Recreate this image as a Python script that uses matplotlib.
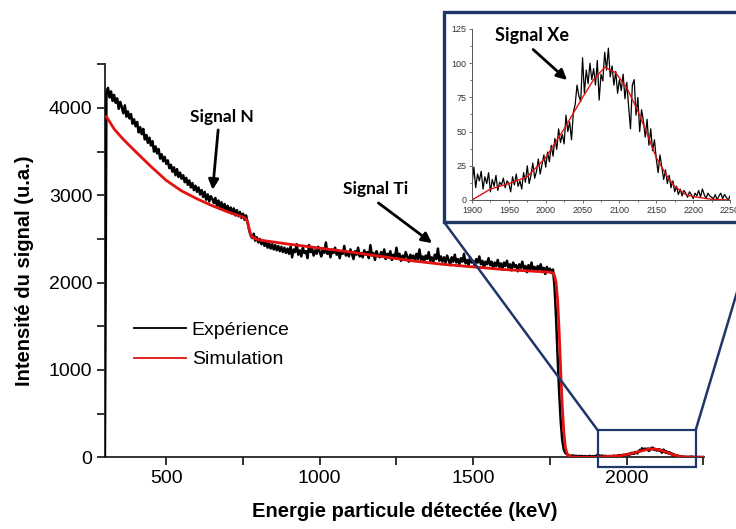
import numpy as np
import matplotlib
matplotlib.use("Agg")
import matplotlib.pyplot as plt
from matplotlib.patches import Rectangle, ConnectionPatch
from matplotlib.lines import Line2D

# ---------------- data ----------------
# Experimental spectrum, 5 keV channels from 300 to 1895 keV
exp_main_start, exp_main_step = 300, 5
exp_main = [0,
    4180, 4230, 4120, 4190, 4080, 4150, 4060, 4110, 3990, 4070,
    4010, 3940, 4030, 3900, 3960, 3880, 3930, 3820, 3870, 3790,
    3840, 3720, 3780, 3700, 3760, 3640, 3690, 3600, 3660, 3570,
    3620, 3500, 3560, 3480, 3530, 3420, 3470, 3390, 3440, 3360,
    3400, 3310, 3350, 3270, 3320, 3230, 3300, 3210, 3260, 3190,
    3230, 3150, 3200, 3120, 3170, 3090, 3140, 3060, 3110, 3040,
    3090, 3010, 3060, 2980, 3040, 2950, 3010, 2930, 2990, 2960,
    2910, 2970, 2880, 2940, 2860, 2920, 2840, 2900, 2830, 2880,
    2810, 2860, 2790, 2850, 2770, 2830, 2760, 2810, 2740, 2790,
    2720, 2770, 2690, 2600, 2540, 2510, 2560, 2480, 2520, 2460,
    2500, 2440, 2480, 2420, 2470, 2400, 2450, 2390, 2440, 2380,
    2430, 2370, 2420, 2360, 2410, 2350, 2400, 2340, 2390, 2330,
    2410, 2290, 2380, 2350, 2440, 2320, 2370, 2300, 2400, 2340,
    2360, 2280, 2430, 2350, 2390, 2310, 2370, 2330, 2410, 2350,
    2300, 2390, 2340, 2460, 2330, 2370, 2290, 2380, 2340, 2400,
    2320, 2370, 2280, 2360, 2330, 2420, 2310, 2350, 2300, 2380,
    2330, 2270, 2360, 2320, 2400, 2300, 2340, 2290, 2370, 2320,
    2350, 2280, 2430, 2310, 2340, 2260, 2360, 2310, 2290, 2350,
    2300, 2380, 2270, 2330, 2290, 2360, 2260, 2320, 2290, 2400,
    2280, 2330, 2250, 2310, 2270, 2350, 2300, 2240, 2320, 2280,
    2310, 2250, 2330, 2270, 2380, 2260, 2300, 2240, 2310, 2270,
    2350, 2250, 2290, 2230, 2320, 2270, 2390, 2250, 2300, 2240,
    2290, 2230, 2310, 2260, 2200, 2290, 2240, 2320, 2230, 2270,
    2210, 2280, 2240, 2330, 2220, 2260, 2200, 2290, 2230, 2250,
    2190, 2270, 2230, 2300, 2210, 2250, 2170, 2240, 2210, 2280,
    2200, 2240, 2160, 2230, 2190, 2260, 2180, 2220, 2150, 2230,
    2190, 2250, 2170, 2210, 2140, 2230, 2180, 2200, 2130, 2210,
    2170, 2240, 2160, 2190, 2120, 2200, 2150, 2230, 2140, 2180,
    2130, 2190, 2150, 2210, 2120, 2170, 2100, 2180, 2140, 2160,
    2110, 2150, 1950, 1600, 1150, 750, 420, 200, 90, 50,
    35, 25, 20, 15, 22, 12, 18, 10, 16, 12,
    15, 10, 14, 8, 12, 16, 9, 13, 11]

# Experimental spectrum, 2.5 keV channels from 1900 to 2250 keV (Xe peak)
exp_xe_start, exp_xe_step = 1900, 2.5
exp_xe = [
    12, 24, 9, 19, 14, 21, 8, 17, 12, 20,
    6, 15, 10, 18, 7, 13, 11, 16, 9, 14,
    12, 6, 17, 11, 19, 10, 14, 8, 20, 13,
    25, 12, 18, 27, 16, 21, 30, 19, 26, 33,
    24, 35, 28, 40, 32, 45, 37, 52, 42, 48,
    41, 62, 50, 57, 44, 64, 70, 84, 76, 72,
    104, 78, 95, 85, 100, 88, 96, 84, 102, 73,
    92, 87, 108, 95, 111, 90, 98, 84, 94, 78,
    88, 80, 92, 74, 86, 68, 52, 84, 88, 62,
    75, 50, 66, 58, 46, 59, 40, 52, 36, 44,
    30, 20, 33, 24, 15, 22, 12, 18, 9, 14,
    6, 10, 4, 8, 3, 7, 5, 2, 6, 4,
    1, 5, 3, 7, 2, 8, 4, 1, 5, 3,
    2, 1, 4, 0, 3, 5, 1, 4, 2, 0,
    3]

# Simulation
sim_energy = [305, 330, 360, 400, 450, 500, 550, 600, 650, 700, 750, 760,
              765, 770, 775, 780, 800, 900, 1000, 1100, 1200, 1300, 1400,
              1500, 1600, 1700, 1750, 1760, 1765, 1770, 1775, 1780, 1785,
              1790, 1795, 1800, 1805, 1810, 1820, 1850, 1900, 1925, 1950,
              1975, 2000, 2025, 2050, 2065, 2080, 2095, 2110, 2125, 2140,
              2150, 2165, 2175, 2190, 2200, 2225, 2250]
sim_signal = [3900, 3760, 3640, 3500, 3330, 3170, 3050, 2960, 2880, 2810, 2750, 2730,
              2690, 2620, 2550, 2520, 2490, 2440, 2395, 2350, 2300, 2250, 2210,
              2180, 2150, 2130, 2120, 2110, 2080, 2000, 1800, 1450, 1000,
              600, 300, 120, 50, 20, 5, 0, 0, 8, 12,
              17, 31, 52, 75, 88, 97, 93, 82, 65, 45,
              31, 17, 10, 4, 2.5, 0.5, 0]

legend_labels = ["Expérience", "Simulation"]
x_ticks = [500, 1000, 1500, 2000]
y_ticks = [0, 1000, 2000, 3000, 4000]
inset_x_ticks = [1900, 1950, 2000, 2050, 2100, 2150, 2200, 2250]
inset_y_ticks = [0, 25, 50, 75, 100, 125]
zoom_x = (1905, 2225)
zoom_y = (-108, 313)

# ---------------- figure ----------------
navy = "#1f3768"
red = "#e3110f"
W, H = 736, 529
fig = plt.figure(figsize=(W / 100, H / 100), dpi=100)
plt.rcParams["font.family"] = ["Liberation Sans", "DejaVu Sans"]

ax = fig.add_axes([104.9 / W, (H - 457.3) / H, (704 - 104.9) / W, (457.3 - 64.3) / H])

e_main = exp_main_start + exp_main_step * np.arange(len(exp_main))
e_xe = exp_xe_start + exp_xe_step * np.arange(len(exp_xe))
e_all = np.concatenate([e_main, e_xe])
v_all = np.concatenate([exp_main, exp_xe])

ax.plot(e_all, v_all, color="black", lw=1.8, zorder=3)
ax.plot(sim_energy, sim_signal, color=red, lw=2.0, zorder=4)

ax.set_xlim(300, 2252)
ax.set_ylim(0, 4500)
ax.set_xticks(x_ticks)
ax.set_xticks([750, 1250, 1750, 2250], minor=True)
ax.set_yticks(y_ticks)
ax.set_yticks([500, 1500, 2500, 3500, 4500], minor=True)
for s in ["top", "right"]:
    ax.spines[s].set_visible(False)
for s in ["left", "bottom"]:
    ax.spines[s].set_linewidth(1.3)
    ax.spines[s].set_color("#222222")
ax.tick_params(which="both", direction="out", length=6, width=1.3, color="#222222",
               labelsize=14, pad=3)
ax.tick_params(which="minor", length=5.5)

ax.set_xlabel("Energie particule détectée (keV)", fontsize=14.5, fontweight="bold")
ax.set_ylabel("Intensité du signal (u.a.)", fontsize=14.5, fontweight="bold")
ax.xaxis.set_label_coords(0.5, -0.115)
ax.yaxis.set_label_coords(-0.118, 0.475)

handles = [Line2D([], [], color="black", lw=1.3), Line2D([], [], color=red, lw=1.3)]
leg = ax.legend(handles, legend_labels, loc="upper left", bbox_to_anchor=(0.02, 0.39),
                frameon=False, fontsize=14, handlelength=2.65, handletextpad=0.3,
                labelspacing=0.6)

# annotations
ann_font = dict(family=["Lato", "DejaVu Sans"], fontweight="bold", fontsize=12.5)
arrow = dict(arrowstyle="-|>,head_length=0.6,head_width=0.3", color="black", lw=2.0,
             shrinkA=0, shrinkB=0)
ax.text(681, 3900, "Signal N", ha="center", va="center", **ann_font, zorder=6)
ax.annotate("", xy=(651, 3062), xytext=(669, 3749), arrowprops=arrow, zorder=6)
ax.text(1183, 3073, "Signal Ti", ha="center", va="center", **ann_font, zorder=6)
ax.annotate("", xy=(1366, 2452), xytext=(1191, 2913), arrowprops=arrow, zorder=6)

# zoom rectangle
ax.add_patch(Rectangle((zoom_x[0], zoom_y[0]), zoom_x[1] - zoom_x[0], zoom_y[1] - zoom_y[0],
                       fill=False, ec=navy, lw=1.6, clip_on=False, zorder=5))

# inset frame
fx0, fy0 = 444 / W, (H - 222) / H
fx1, fy1 = 758 / W, (H - 12) / H
frame = Rectangle((fx0, fy0), fx1 - fx0, fy1 - fy0, transform=fig.transFigure,
                  facecolor="white", edgecolor=navy, lw=2.4, zorder=10)
fig.add_artist(frame)
for xa, xb in [(zoom_x[0], fx0), (zoom_x[1], fx1)]:
    cp = ConnectionPatch(xyA=(xa, zoom_y[1]), coordsA=ax.transData,
                         xyB=(xb, fy0), coordsB=fig.transFigure,
                         color=navy, lw=1.8, zorder=9)
    fig.add_artist(cp)

ins = fig.add_axes([472 / W, (H - 200) / H, (730 - 472) / W, (200 - 29) / H], zorder=11)
ins.patch.set_alpha(0)
ins.plot(e_xe, exp_xe, color="black", lw=0.9)
ins.plot(sim_energy, sim_signal, color=red, lw=1.0)
ins.set_xlim(1900, 2250)
ins.set_ylim(0, 125)
ins.set_xticks(inset_x_ticks)
ins.set_xticks(np.arange(1925, 2250, 50), minor=True)
ins.set_yticks(inset_y_ticks)
ins.set_yticks(np.arange(12.5, 125, 25), minor=True)
for s in ["top", "right"]:
    ins.spines[s].set_visible(False)
for s in ["left", "bottom"]:
    ins.spines[s].set_linewidth(0.7)
    ins.spines[s].set_color("#555555")
ins.tick_params(which="both", direction="out", length=2.5, width=0.6, color="#555555",
                labelsize=6.5, labelcolor="#333333", pad=1.5)
ins.tick_params(which="minor", length=1.5)
ins.text(1981, 120, "Signal Xe", ha="center", va="center",
         family=["Lato", "DejaVu Sans"], fontweight="bold", fontsize=13)
ins.annotate("", xy=(2029, 87.7), xytext=(1983, 110), arrowprops=arrow)

fig.savefig("out.png", dpi=100)
